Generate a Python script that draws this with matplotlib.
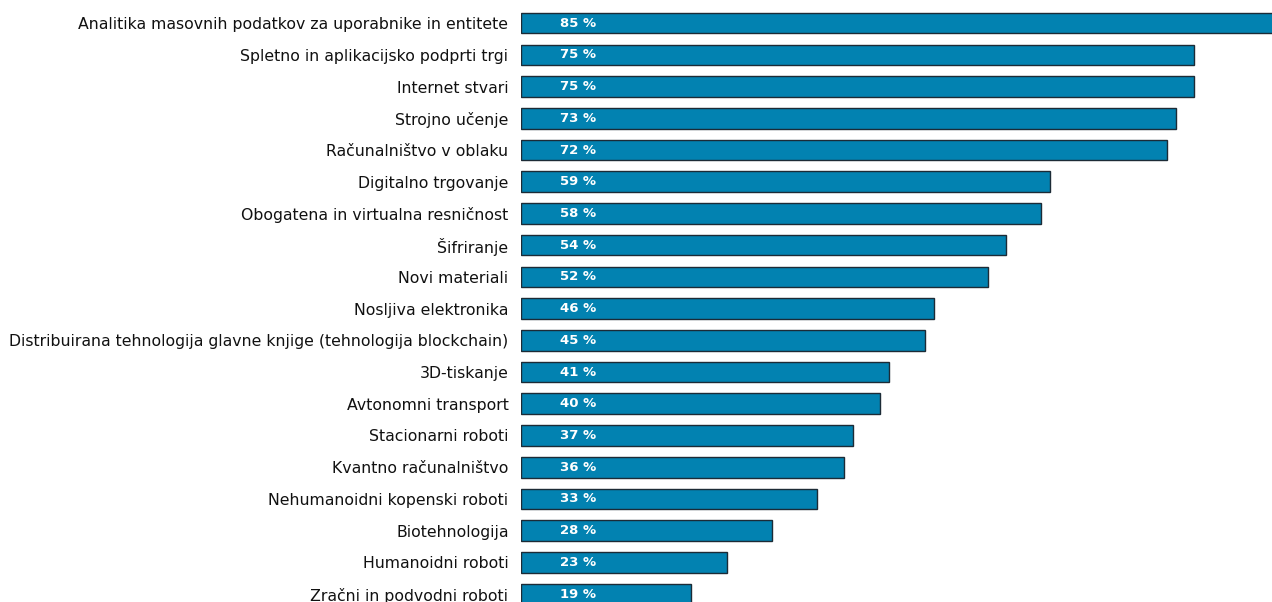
import matplotlib.pyplot as plt

# podatki
kategorije = [
    "Analitika masovnih podatkov za uporabnike in entitete",
    "Spletno in aplikacijsko podprti trgi",
    "Internet stvari",
    "Strojno učenje",
    "Računalništvo v oblaku",
    "Digitalno trgovanje",
    "Obogatena in virtualna resničnost",
    "Šifriranje",
    "Novi materiali",
    "Nosljiva elektronika",
    "Distribuirana tehnologija glavne knjige (tehnologija blockchain)",
    "3D-tiskanje",
    "Avtonomni transport",
    "Stacionarni roboti",
    "Kvantno računalništvo",
    "Nehumanoidni kopenski roboti",
    "Biotehnologija",
    "Humanoidni roboti",
    "Zračni in podvodni roboti",
]
vrednosti = [85, 75, 75, 73, 72, 59, 58, 54, 52, 46, 45, 41, 40, 37, 36, 33, 28, 23, 19]

fig = plt.figure(figsize=(12.72, 6.02), dpi=100)
ax = fig.add_axes([521 / 1272, 0, 751 / 1272, 1])

y = list(range(len(kategorije)))
ax.barh(y, vrednosti, height=0.65, color="#0282b1", edgecolor="#1c2b36", linewidth=1)

for i, v in enumerate(vrednosti):
    ax.text(4.3, i, f"{v} %", color="white", fontweight="bold",
            fontsize=9.5, va="center", ha="left", family="DejaVu Sans")

ax.set_xlim(0, 83.7)
ax.set_ylim(18.25, -0.73)
ax.set_yticks(y)
ax.set_yticklabels(kategorije, fontsize=11.3, family="DejaVu Sans", color="#111111")
ax.tick_params(axis="y", length=0, pad=9)
ax.set_xticks([])
for s in ax.spines.values():
    s.set_visible(False)

fig.savefig("out.png", dpi=100)
